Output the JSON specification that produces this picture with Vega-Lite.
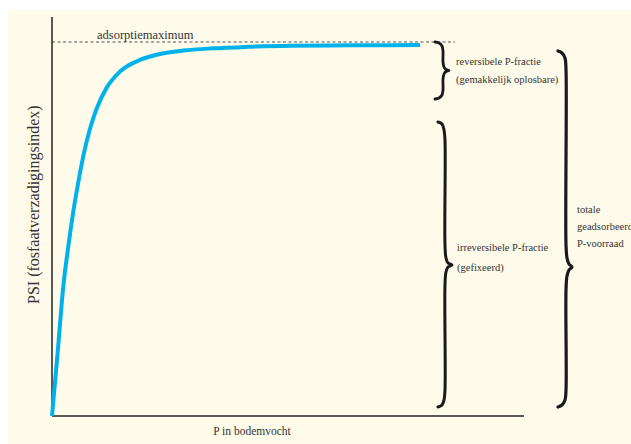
{
  "$schema": "https://vega.github.io/schema/vega-lite/v6.json",
  "width": 623,
  "height": 434,
  "autosize": "none",
  "padding": {"left": 8, "top": 10, "right": 0, "bottom": 0},
  "background": "#ffffff",
  "config": {"view": {"fill": "#fffbea", "stroke": null}},
  "encoding": {
    "x": {"field": "x", "type": "quantitative", "scale": {"domain": [-9.322, 122.669], "nice": false, "zero": false}, "axis": null},
    "y": {"field": "y", "type": "quantitative", "scale": {"domain": [-7.487, 108.556], "nice": false, "zero": false}, "axis": null}
  },
  "layer": [
    {
      "data": {"values": [
        {"x": 0, "y": 100, "x2": 85.38, "y2": 100}
      ]},
      "mark": {"type": "rule", "stroke": "#555555", "strokeWidth": 1, "strokeDash": [3, 2.5]},
      "encoding": {"x2": {"field": "x2"}, "y2": {"field": "y2"}}
    },
    {
      "data": {"values": [
        {"x": 0, "y": 0, "x2": 0, "y2": 106.68},
        {"x": 0, "y": 0, "x2": 100, "y2": 0}
      ]},
      "mark": {"type": "rule", "stroke": "#222222", "strokeWidth": 1.5},
      "encoding": {"x2": {"field": "x2"}, "y2": {"field": "y2"}}
    },
    {
      "data": {"values": [
        {"x": 0, "y": 0},
        {"x": 1.2, "y": 17},
        {"x": 2.39, "y": 34.6},
        {"x": 3.45, "y": 45.3},
        {"x": 4.51, "y": 54.6},
        {"x": 5.57, "y": 62.5},
        {"x": 6.63, "y": 69.5},
        {"x": 8.05, "y": 76.8},
        {"x": 9.47, "y": 82.2},
        {"x": 11.59, "y": 87.8},
        {"x": 14.41, "y": 92.1},
        {"x": 18.64, "y": 95.2},
        {"x": 22.88, "y": 96.8},
        {"x": 27.75, "y": 97.7},
        {"x": 34.11, "y": 98.3},
        {"x": 41.31, "y": 98.7},
        {"x": 50.42, "y": 99.0},
        {"x": 63.14, "y": 99.1},
        {"x": 77.97, "y": 99.2}
      ]},
      "mark": {"type": "line", "stroke": "#00b2ec", "strokeWidth": 4, "interpolate": "monotone", "strokeCap": "butt"},
      "encoding": {}
    },
    {
      "data": {"values": [
        {"brace": "reversibel", "o": 1, "x": 81.14, "y": 100},
        {"brace": "reversibel", "o": 2, "x": 81.99, "y": 99.73},
        {"brace": "reversibel", "o": 3, "x": 82.63, "y": 98.93},
        {"brace": "reversibel", "o": 4, "x": 82.84, "y": 97.59},
        {"brace": "reversibel", "o": 5, "x": 82.84, "y": 94.65},
        {"brace": "reversibel", "o": 6, "x": 83.05, "y": 93.32},
        {"brace": "reversibel", "o": 7, "x": 83.47, "y": 92.65},
        {"brace": "reversibel", "o": 8, "x": 84.11, "y": 92.38},
        {"brace": "reversibel", "o": 9, "x": 83.47, "y": 92.11},
        {"brace": "reversibel", "o": 10, "x": 83.05, "y": 91.44},
        {"brace": "reversibel", "o": 11, "x": 82.84, "y": 90.11},
        {"brace": "reversibel", "o": 12, "x": 82.84, "y": 87.17},
        {"brace": "reversibel", "o": 13, "x": 82.63, "y": 85.83},
        {"brace": "reversibel", "o": 14, "x": 81.99, "y": 85.03},
        {"brace": "reversibel", "o": 15, "x": 81.14, "y": 84.76},
        {"brace": "irreversibel", "o": 1, "x": 81.78, "y": 78.61},
        {"brace": "irreversibel", "o": 2, "x": 82.63, "y": 78.07},
        {"brace": "irreversibel", "o": 3, "x": 83.05, "y": 76.47},
        {"brace": "irreversibel", "o": 4, "x": 83.26, "y": 73.80},
        {"brace": "irreversibel", "o": 5, "x": 83.26, "y": 45.72},
        {"brace": "irreversibel", "o": 6, "x": 83.47, "y": 42.25},
        {"brace": "irreversibel", "o": 7, "x": 83.90, "y": 40.91},
        {"brace": "irreversibel", "o": 8, "x": 84.75, "y": 40.37},
        {"brace": "irreversibel", "o": 9, "x": 83.90, "y": 39.84},
        {"brace": "irreversibel", "o": 10, "x": 83.47, "y": 38.50},
        {"brace": "irreversibel", "o": 11, "x": 83.26, "y": 35.03},
        {"brace": "irreversibel", "o": 12, "x": 83.26, "y": 6.95},
        {"brace": "irreversibel", "o": 13, "x": 83.05, "y": 4.28},
        {"brace": "irreversibel", "o": 14, "x": 82.63, "y": 2.94},
        {"brace": "irreversibel", "o": 15, "x": 81.78, "y": 2.41},
        {"brace": "totaal", "o": 1, "x": 107.20, "y": 97.59},
        {"brace": "totaal", "o": 2, "x": 108.05, "y": 97.06},
        {"brace": "totaal", "o": 3, "x": 108.69, "y": 95.72},
        {"brace": "totaal", "o": 4, "x": 108.90, "y": 92.51},
        {"brace": "totaal", "o": 5, "x": 108.90, "y": 45.72},
        {"brace": "totaal", "o": 6, "x": 109.11, "y": 42.25},
        {"brace": "totaal", "o": 7, "x": 109.53, "y": 40.64},
        {"brace": "totaal", "o": 8, "x": 110.17, "y": 39.84},
        {"brace": "totaal", "o": 9, "x": 109.53, "y": 39.04},
        {"brace": "totaal", "o": 10, "x": 109.11, "y": 37.43},
        {"brace": "totaal", "o": 11, "x": 108.90, "y": 33.69},
        {"brace": "totaal", "o": 12, "x": 108.90, "y": 6.95},
        {"brace": "totaal", "o": 13, "x": 108.69, "y": 4.28},
        {"brace": "totaal", "o": 14, "x": 108.05, "y": 2.94},
        {"brace": "totaal", "o": 15, "x": 107.20, "y": 2.41}
      ]},
      "mark": {"type": "line", "stroke": "#1a1a1a", "interpolate": "catmull-rom", "strokeCap": "round"},
      "encoding": {
        "detail": {"field": "brace", "type": "nominal"},
        "order": {"field": "o", "type": "quantitative"},
        "strokeWidth": {"field": "brace", "type": "nominal", "scale": {"domain": ["reversibel", "irreversibel", "totaal"], "range": [2.8, 3.2, 3.8]}, "legend": null}
      }
    },
    {
      "data": {"values": [
        {"x": 9.53, "y": 100.67, "label": "adsorptiemaximum"}
      ]},
      "mark": {"type": "text", "font": "Liberation Serif", "fontSize": 12.5, "fill": "#333333", "align": "left", "baseline": "alphabetic"},
      "encoding": {"text": {"field": "label"}}
    },
    {
      "data": {"values": [
        {"x": 85.59, "y": 94.65, "label": "reversibele P-fractie"},
        {"x": 85.59, "y": 89.84, "label": "(gemakkelijk oplosbare)"},
        {"x": 85.81, "y": 44.92, "label": "irreversibele P-fractie"},
        {"x": 85.81, "y": 39.57, "label": "(gefixeerd)"},
        {"x": 111.23, "y": 55.08, "label": "totale"},
        {"x": 111.23, "y": 50.53, "label": "geadsorbeerde"},
        {"x": 111.23, "y": 45.99, "label": "P-voorraad"}
      ]},
      "mark": {"type": "text", "font": "Liberation Serif", "fontSize": 10.5, "fill": "#333333", "align": "left", "baseline": "middle"},
      "encoding": {"text": {"field": "label"}}
    },
    {
      "data": {"values": [
        {"x": 42.37, "y": -4.28, "label": "P in bodemvocht"}
      ]},
      "mark": {"type": "text", "font": "Liberation Serif", "fontSize": 11.5, "fill": "#333333", "align": "center", "baseline": "middle"},
      "encoding": {"text": {"field": "label"}}
    },
    {
      "data": {"values": [
        {"x": -3.81, "y": 56.5, "label": "PSI (fosfaatverzadigingsindex)"}
      ]},
      "mark": {"type": "text", "font": "Liberation Serif", "fontSize": 16, "fill": "#333333", "align": "center", "baseline": "middle", "angle": 270},
      "encoding": {"text": {"field": "label"}}
    }
  ]
}
